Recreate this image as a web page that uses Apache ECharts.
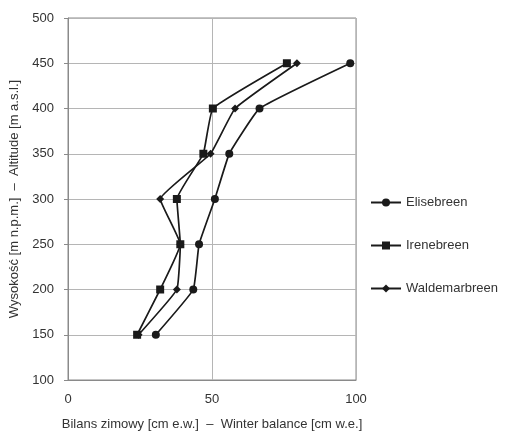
<!DOCTYPE html>
<html>
<head>
<meta charset="utf-8">
<script src="https://cdn.jsdelivr.net/npm/echarts@6/dist/echarts.min.js"></script>
<style>
  html, body { margin: 0; padding: 0; background: #fff; }
  #chart { width: 505px; height: 436px; }
</style>
</head>
<body>
<div id="chart"></div>
<script>
// wysokości (oś Y) i bilans zimowy dla każdego lodowca (oś X)
const altitudes = [150, 200, 250, 300, 350, 400, 450];
const elisebreen = [30.5, 43.5, 45.5, 51, 56, 66.5, 98];
const irenebreen = [24, 32, 39, 37.8, 47, 50.3, 76];
const waldemarbreen = [24.5, 37.8, 39, 32, 49.5, 58, 79.5];

const names = ['Elisebreen', 'Irenebreen', 'Waldemarbreen'];
const symbols = ['circle', 'rect', 'diamond'];
const sizes = [8, 8, 8];

const chart = echarts.init(document.getElementById('chart'));

const pairs = vals => vals.map((v, i) => [v, altitudes[i]]);

const series = [elisebreen, irenebreen, waldemarbreen].map((vals, i) => ({
  name: names[i],
  type: 'line',
  data: pairs(vals),
  symbol: symbols[i],
  symbolSize: sizes[i],
  smooth: 0.1,
  lineStyle: { color: '#1a1a1a', width: 1.7 },
  itemStyle: { color: '#1a1a1a' }
}));

const option = {
  animation: false,
  textStyle: { fontFamily: 'Liberation Sans, Arial, sans-serif' },
  grid: { left: 68, right: 149, top: 18, bottom: 55, show: true, borderColor: '#8a8a8a', borderWidth: 1 },
  xAxis: {
    type: 'value',
    min: 0, max: 100, interval: 50,
    name: 'Bilans zimowy [cm e.w.]  \u2013  Winter balance [cm w.e.]',
    nameLocation: 'middle',
    nameGap: 38,
    nameTextStyle: { fontSize: 13, color: '#333' },
    axisLine: { show: true, lineStyle: { color: '#8a8a8a' } },
    axisTick: { show: false },
    axisLabel: { fontSize: 13, color: '#333', margin: 13 },
    splitLine: { lineStyle: { color: '#b5b5b5' } }
  },
  yAxis: {
    type: 'value',
    min: 100, max: 500, interval: 50,
    name: 'Wysoko\u015b\u0107 [m n.p.m.]  \u2013  Altitude [m a.s.l.]',
    nameLocation: 'middle',
    nameGap: 44,
    nameTextStyle: { fontSize: 13, color: '#333' },
    axisLine: { show: true, lineStyle: { color: '#8a8a8a' } },
    axisTick: { show: true, length: 4, lineStyle: { color: '#8a8a8a' } },
    axisLabel: { fontSize: 13, color: '#333', margin: 14 },
    splitLine: { lineStyle: { color: '#b5b5b5' } }
  },
  legend: {
    orient: 'vertical',
    left: 365,
    top: 191,
    itemWidth: 30,
    itemHeight: 10,
    itemGap: 30,
    textStyle: { fontSize: 13, color: '#333' },
    data: names
  },
  series: series
};

chart.setOption(option);
</script>
</body>
</html>
